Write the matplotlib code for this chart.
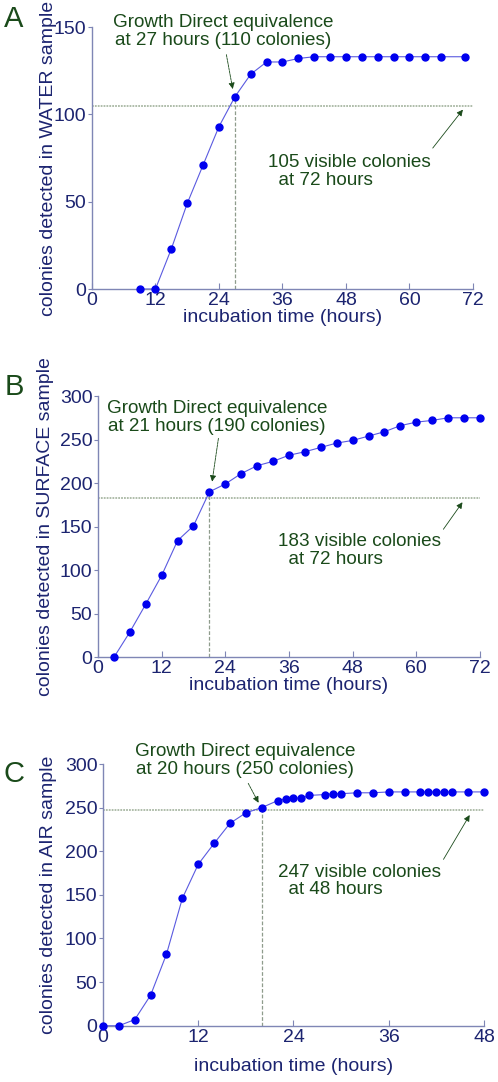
import matplotlib
matplotlib.use("Agg")
import matplotlib.pyplot as plt
import numpy as np

plt.rcParams['font.family'] = ['Liberation Sans', 'DejaVu Sans']

# panel A - water
water_t = [9, 12, 15, 18, 21, 24, 27, 30, 33, 36, 39, 42, 45, 48, 51, 54, 57, 60, 63, 66, 70.5]
water_n = [0, 0, 23, 49, 71, 93, 110, 123, 130, 130, 132, 133, 133, 133, 133, 133, 133, 133, 133, 133, 133]

# panel B - surface
surface_t = [3, 6, 9, 12, 15, 18, 21, 24, 27, 30, 33, 36, 39, 42, 45, 48, 51, 54, 57, 60, 63, 66, 69, 72]
surface_n = [0, 29, 61, 94, 134, 151, 190, 199, 211, 220, 225, 232, 236, 241, 246, 249, 254, 259,
             266, 270, 272, 275, 275, 275]

# panel C - air
air_t = [0, 2, 4, 6, 8, 10, 12, 14, 16, 18, 20, 22, 23, 24, 25, 26, 28, 29, 30, 32, 34, 36, 38,
         40, 41, 42, 43, 44, 46, 48]
air_n = [0, 0, 7, 35, 82, 146, 185, 209, 232, 244, 250, 258, 260, 261, 261, 264, 265, 266, 266,
         267, 267, 268, 268, 268, 268, 268, 268, 268, 268, 268]

# equivalence point (hours, colonies) and visible count
water_eq = (27, 110, 105)
surface_eq = (21, 190, 183)
air_eq = (20, 250, 247)

spine_col = '#7f86b5'
tick_col = '#1c2470'
green = '#1a4a1a'

fig = plt.figure(figsize=(4.98, 10.82), dpi=100)


def panel(rect, t, n, eq, xmax, ymax, yticks, sample, hrs, letter, letter_y,
          txt1, arr1, txt2, arr2, ylab_x, xpad):
    ax = fig.add_axes(rect)
    teq, neq, nvis = eq
    ax.plot([0, xmax], [nvis, nvis], color='#a9b8a4', lw=1.3, ls=(0, (1, 0.6)), zorder=1)
    ax.plot([teq, teq], [0, neq], color='#8f9c8c', lw=0.9, ls=(0, (3, 1.5)), zorder=1)
    ax.plot(t, n, '-', color='#5a5ae0', lw=0.8, zorder=2)
    ax.plot(t, n, 'o', color='#0000ee', ms=5, zorder=3, clip_on=False)
    ax.set_xlim(0, xmax)
    ax.set_ylim(0, ymax)
    ax.set_xticks(np.arange(0, xmax + 1, 12))
    ax.set_yticks(yticks)
    for s in ['top', 'right']:
        ax.spines[s].set_visible(False)
    for s in ['left', 'bottom']:
        ax.spines[s].set_color(spine_col)
        ax.spines[s].set_linewidth(1.0)
    ax.tick_params(axis='x', direction='in', length=4, color=spine_col,
                   labelcolor=tick_col, labelsize=14, pad=2)
    ax.tick_params(axis='y', direction='out', length=3, color=spine_col,
                   labelcolor=tick_col, labelsize=14, pad=1)
    ax.set_xlabel('incubation time (hours)', fontsize=14, color=tick_col, labelpad=xpad)
    ax.set_ylabel('colonies detected in %s sample' % sample, fontsize=14, color=tick_col)
    ax.yaxis.set_label_coords(ylab_x, 0.5)

    ax.annotate('Growth Direct equivalence\nat %d hours (%d colonies)' % (teq, neq),
                xy=arr1[1], xytext=txt1, ha='center', va='center', fontsize=13.6,
                color=green, linespacing=1.05, annotation_clip=False)
    ax.annotate('', xy=arr1[1], xytext=arr1[0], annotation_clip=False,
                arrowprops=dict(arrowstyle='-|>', color=green, lw=0.6, ls=(0, (3, 1)),
                                mutation_scale=9, shrinkA=0, shrinkB=0))
    ax.text(txt2[0], txt2[1], '%d visible colonies\n  at %d hours' % (nvis, hrs),
            ha='left', va='center', fontsize=13.6, color=green, linespacing=1.05)
    ax.annotate('', xy=arr2[1], xytext=arr2[0], annotation_clip=False,
                arrowprops=dict(arrowstyle='-|>', color=green, lw=0.6,
                                mutation_scale=9, shrinkA=0, shrinkB=0))
    fig.text(14 / 498, 1 - letter_y / 1082, letter, fontsize=21, color=green,
             ha='center', va='center')
    return ax


panel([0.1847, 0.7329, 0.765, 0.2421], water_t, water_n, water_eq, 72, 150, [0, 50, 100, 150],
      'WATER', 72, 'A', 19,
      (24.8, 147.5), ((25.4, 134.2), (26.6, 114.5)),
      (33.3, 67.4), ((64.4, 80.7), (70.1, 102.7)), -0.092, 0)

panel([0.1968, 0.3925, 0.767, 0.2415], surface_t, surface_n, surface_eq, 72, 300,
      [0, 50, 100, 150, 200, 250, 300],
      'SURFACE', 72, 'B', 387,
      (22.4, 275.5), ((22.7, 251.4), (21.5, 201.7)),
      (33.9, 122.5), ((65.1, 147), (68.7, 178)), -0.114, 0)

panel([0.2068, 0.0520, 0.765, 0.2419], air_t, air_n, air_eq, 48, 300,
      [0, 50, 100, 150, 200, 250, 300],
      'AIR', 48, 'C', 774,
      (17.9, 304), ((18.3, 277.8), (19.6, 255.6)),
      (22.0, 166), ((42.9, 190.7), (46.2, 241.5)), -0.12, 9)

fig.savefig('out.png', dpi=100)
